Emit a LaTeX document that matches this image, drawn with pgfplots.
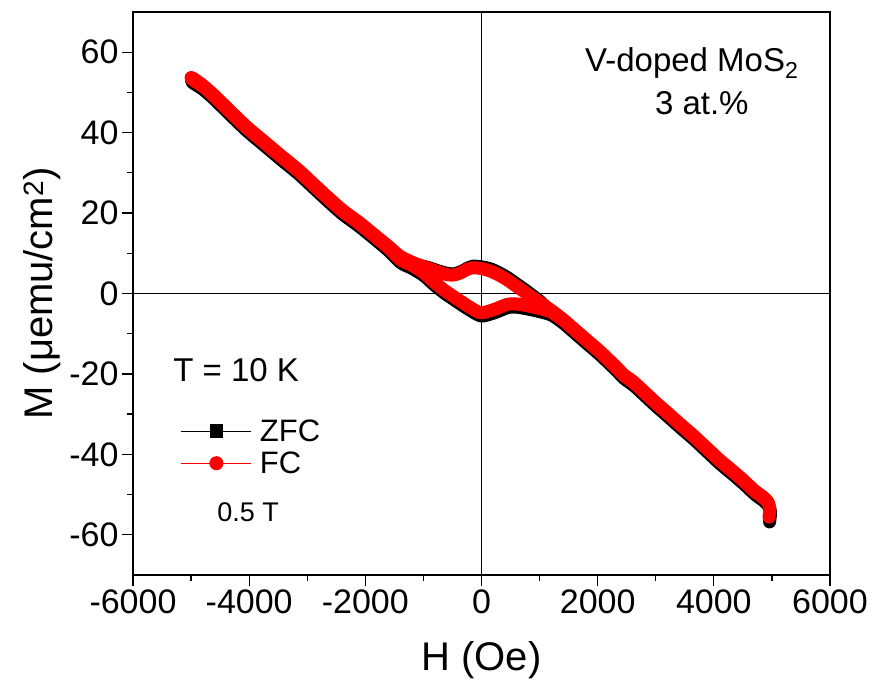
\documentclass[border=0pt]{standalone}
\usepackage{fontspec}
\setmainfont{Liberation Sans}
\usepackage{pgfplots}
\pgfplotsset{compat=1.18}
\usepackage{pgfplotstable}

\pgfplotstableread{
H M
4950 -55.6
4965 -53.5
4930 -51.8
4850 -50.6
4700 -49.0
4500 -46.3
4300 -43.8
4100 -41.4
3900 -38.7
3640 -35.2
3400 -32.2
3183 -29.4
3000 -27.1
2800 -24.4
2611 -21.9
2450 -20.2
2300 -18.0
2040 -14.4
1800 -11.4
1600 -8.9
1400 -6.4
1200 -4.2
1000 -2.2
850 -0.7
730 0.5
600 1.8
443 3.4
300 4.6
150 5.6
0 6.2
-150 6.4
-250 6.0
-350 5.2
-477 4.6
-600 4.7
-750 5.4
-936 6.4
-1150 7.5
-1397 9.2
-1600 11.7
-1846 14.6
-2100 17.6
-2400 20.8
-2650 24.0
-2875 27.0
-3150 30.7
-3446 34.2
-3750 37.9
-4039 41.4
-4300 45.0
-4611 49.4
-4800 51.8
-4954 53.4
-5000 53.7
-4980 53.2
-4800 51.5
-4611 49.1
-4300 44.7
-4039 41.1
-3750 37.6
-3446 33.9
-3150 30.4
-2875 26.7
-2650 23.7
-2400 20.5
-2100 17.3
-1846 14.3
-1600 11.3
-1397 8.4
-1200 7.0
-1000 5.2
-822 2.9
-650 0.9
-477 -0.8
-247 -3.0
-17 -4.8
212 -4.0
443 -2.7
600 -2.6
730 -2.9
900 -3.4
1017 -3.8
1200 -4.6
1400 -6.6
1600 -9.1
1800 -11.6
2040 -14.6
2300 -18.2
2450 -20.4
2611 -22.1
2800 -24.6
3000 -27.3
3183 -29.6
3400 -32.4
3640 -35.4
3900 -38.9
4100 -41.6
4300 -44.0
4500 -46.5
4700 -49.2
4850 -50.8
4930 -52.0
4965 -53.7
4950 -55.6
}\fcdata

\pgfplotstableread{
H M
4960 -56.8
4975 -54.3
4940 -52.6
4860 -51.4
4710 -49.8
4510 -47.1
4310 -44.6
4110 -42.2
3910 -39.5
3650 -36.0
3410 -33.0
3193 -30.2
3010 -27.9
2810 -25.2
2621 -22.7
2460 -21.0
2310 -18.8
2050 -15.2
1810 -12.2
1610 -9.7
1410 -7.2
1210 -4.8
1010 -2.0
860 -0.3
740 1.0
610 2.3
453 3.9
310 5.1
160 6.1
10 6.6
-140 6.8
-240 6.3
-340 5.5
-467 4.9
-590 5.0
-740 5.6
-926 6.5
-1140 7.2
-1387 8.7
-1590 11.0
-1836 13.8
-2090 16.8
-2390 20.0
-2640 23.2
-2865 26.2
-3140 29.9
-3436 33.4
-3740 37.1
-4029 40.6
-4290 44.2
-4601 48.6
-4790 51.0
-4944 52.6
-4990 52.9
-4970 52.4
-4790 50.7
-4601 48.3
-4290 43.9
-4029 40.3
-3740 36.8
-3436 33.1
-3140 29.6
-2865 25.9
-2640 22.9
-2390 19.7
-2090 16.5
-1836 13.5
-1590 10.5
-1387 7.6
-1190 6.2
-990 4.4
-812 2.1
-640 0.1
-467 -1.6
-237 -3.8
-7 -5.6
222 -4.8
453 -3.5
610 -3.4
740 -3.7
910 -4.2
1027 -4.6
1210 -5.4
1410 -7.4
1610 -9.9
1810 -12.4
2050 -15.4
2310 -19.0
2460 -21.2
2621 -22.9
2810 -25.4
3010 -28.1
3193 -30.4
3410 -33.2
3650 -36.2
3910 -39.7
4110 -42.4
4310 -44.8
4510 -47.3
4710 -50.0
4860 -51.6
4940 -52.8
4975 -54.5
4960 -56.8
}\zfcdata

\begin{document}
\begin{tikzpicture}
\useasboundingbox (-133bp,-106bp) rectangle (740bp,575bp);
\begin{axis}[
  at={(0,0)}, anchor=south west,
  scale only axis, width=697bp, height=563bp,
  xmin=-6000, xmax=6000, ymin=-70, ymax=70,
  xtick={-6000,-4000,...,6000}, ytick={-60,-40,...,60},
  minor x tick num=1, minor y tick num=1,
  tick pos=left, tick align=outside,
  major tick length=11bp, minor tick length=6bp,
  every tick/.append style={black, line width=1.3bp},
  axis line style={line width=1.8bp},
  /pgf/number format/assume math mode=true,
  /pgf/number format/set thousands separator={},
  ticklabel style={font=\fontsize{34bp}{40bp}\selectfont},
  xlabel={H (Oe)}, ylabel={M (μemu/cm\textsuperscript{2})},
  label style={font=\fontsize{40bp}{48bp}\selectfont},
  xlabel style={at={(axis description cs:0.5,-0.151)}, anchor=center},
  ylabel style={at={(axis description cs:-0.1306,0.5)}, anchor=center},
  legend style={at={(axis cs:-5230,-30.3)}, anchor=north west, draw=none, fill=none,
    font=\fontsize{31bp}{37bp}\selectfont, cells={anchor=west}, row sep=5bp,
    /tikz/every odd column/.append style={column sep=6bp}},
  legend image code/.code={\draw[#1, mark repeat=2, mark phase=2] plot coordinates {(0bp,0bp) (35bp,0bp) (70bp,0bp)};},
]
\draw[black, line width=1.5bp] (axis cs:0,-70) -- (axis cs:0,70);
\draw[black, line width=1.5bp] (axis cs:-6000,0) -- (axis cs:6000,0);
\addplot[forget plot, black, line width=13bp, line join=round, line cap=round, no markers, smooth, tension=0.4] table[x=H, y=M] {\zfcdata};
\addplot[forget plot, red, line width=13bp, line join=round, line cap=round, no markers, smooth, tension=0.4] table[x=H, y=M] {\fcdata};
\addlegendimage{black, line width=1bp, mark=square*, mark size=6.3bp, mark options={solid}}
\addlegendentry{ZFC}
\addlegendimage{red, line width=1bp, mark=*, mark size=6.5bp, mark options={solid}}
\addlegendentry{FC}
\node[font=\fontsize{33bp}{40bp}\selectfont, anchor=base] at (axis cs:3621,55.25) {V-doped MoS\textsubscript{2}};
\node[font=\fontsize{33bp}{40bp}\selectfont, anchor=base] at (axis cs:3793,44.5) {3 at.\%};
\node[font=\fontsize{33bp}{40bp}\selectfont, anchor=base] at (axis cs:-4224,-22) {T = 10 K};
\node[font=\fontsize{27bp}{32bp}\selectfont, anchor=base] at (axis cs:-4017,-56.8) {0.5 T};
\end{axis}
\end{tikzpicture}
\end{document}
